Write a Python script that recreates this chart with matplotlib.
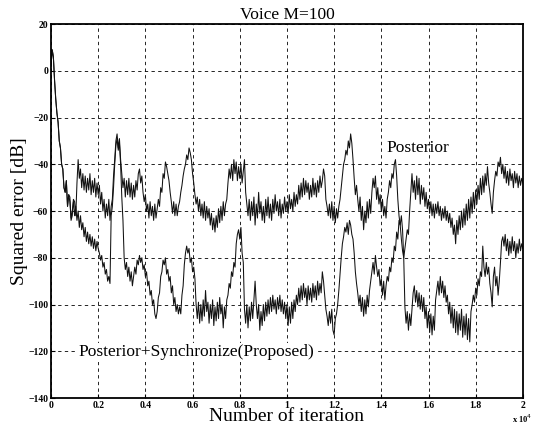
import matplotlib
matplotlib.use("Agg")
import matplotlib.pyplot as plt

plt.rcParams['font.family'] = ['Liberation Serif', 'DejaVu Serif']

# iteration axis (step 50)
iterations = list(range(0, 20001, 50))

posterior = [
    2, 9, 6, -4, -12, -18, -22, -30, -33, -40, -42, -50, -52, -47, -58, -53, -54, -64, -62, -55,
    -56, -62, -48, -38, -46, -42, -50, -44, -51, -45, -52, -46, -51, -44, -53, -47, -52, -46, -54, -48,
    -53, -49, -57, -52, -60, -55, -63, -57, -62, -55, -64, -58, -55, -45, -38, -30, -27, -33, -29, -38,
    -44, -50, -46, -54, -47, -53, -46, -54, -48, -55, -49, -54, -47, -51, -44, -42, -48, -45, -52, -56,
    -53, -60, -57, -63, -56, -62, -58, -64, -57, -63, -59, -55, -58, -50, -52, -44, -46, -39, -41, -44,
    -47, -52, -56, -61, -56, -62, -57, -62, -58, -56, -52, -49, -45, -42, -40, -36, -38, -33, -35, -38,
    -44, -48, -53, -57, -54, -60, -55, -62, -57, -63, -56, -64, -58, -63, -59, -66, -61, -68, -63, -69,
    -62, -67, -59, -65, -58, -64, -56, -62, -57, -55, -48, -42, -46, -40, -47, -38, -44, -39, -47, -41,
    -46, -40, -48, -43, -38, -52, -57, -62, -55, -64, -56, -62, -54, -66, -57, -63, -52, -61, -56, -64,
    -58, -65, -55, -62, -54, -63, -57, -64, -55, -61, -53, -60, -56, -62, -55, -63, -57, -61, -54, -60,
    -56, -61, -53, -59, -55, -60, -52, -58, -53, -57, -49, -55, -48, -54, -46, -53, -47, -52, -48, -55,
    -49, -54, -46, -53, -48, -54, -47, -52, -45, -50, -47, -42, -45, -55, -58, -62, -57, -63, -56, -64,
    -58, -65, -59, -63, -58, -55, -50, -45, -40, -38, -34, -36, -30, -33, -27, -31, -38, -46, -53, -49,
    -55, -60, -54, -64, -58, -68, -60, -65, -56, -63, -55, -61, -52, -46, -50, -45, -55, -50, -57, -53,
    -60, -55, -62, -58, -63, -55, -52, -47, -50, -44, -46, -40, -38, -45, -55, -62, -66, -72, -77, -80,
    -76, -72, -68, -70, -60, -52, -44, -52, -47, -55, -45, -53, -46, -57, -49, -55, -50, -58, -52, -59,
    -55, -61, -56, -62, -57, -63, -57, -61, -56, -62, -58, -64, -59, -63, -58, -64, -60, -65, -61, -67,
    -63, -70, -66, -74, -64, -70, -62, -68, -60, -67, -59, -66, -57, -64, -55, -63, -54, -61, -52, -59,
    -51, -57, -49, -55, -46, -53, -45, -52, -44, -49, -41, -48, -52, -57, -61, -52, -47, -43, -45, -39,
    -41, -37, -44, -40, -46, -41, -48, -43, -49, -42, -47, -44, -50, -43, -48, -44, -50, -45, -49, -46,
    -48,
]

proposed = [
    2, 9, 6, -4, -12, -18, -22, -30, -33, -40, -42, -50, -52, -47, -58, -53, -56, -63, -60, -56,
    -62, -58, -64, -60, -67, -62, -68, -65, -71, -67, -73, -69, -74, -70, -75, -71, -76, -72, -77, -73,
    -76, -78, -81, -79, -84, -82, -87, -85, -90, -88, -91, -62, -58, -50, -40, -32, -29, -34, -31, -40,
    -54, -64, -80, -85, -82, -88, -84, -90, -86, -92, -88, -84, -87, -81, -83, -79, -82, -80, -85, -83,
    -88, -86, -92, -90, -96, -94, -100, -98, -104, -106, -103, -97, -95, -88, -86, -81, -83, -80, -87, -85,
    -90, -88, -95, -92, -100, -97, -103, -100, -104, -101, -104, -96, -92, -83, -78, -75, -78, -76, -82, -80,
    -86, -84, -89, -100, -106, -99, -108, -100, -107, -98, -105, -94, -103, -99, -108, -100, -106, -98, -109, -101,
    -107, -99, -106, -97, -104, -100, -110, -101, -106, -98, -96, -91, -93, -86, -88, -82, -84, -74, -70, -68,
    -72, -67, -78, -82, -102, -108, -100, -110, -101, -107, -99, -106, -98, -90, -100, -106, -100, -111, -103, -109,
    -100, -107, -99, -105, -98, -104, -97, -103, -96, -102, -98, -104, -97, -102, -96, -103, -98, -104, -99, -106,
    -100, -109, -101, -108, -99, -106, -98, -103, -96, -100, -93, -99, -92, -98, -91, -97, -93, -100, -92, -98,
    -93, -99, -91, -97, -92, -98, -90, -96, -91, -95, -86, -90, -96, -102, -105, -109, -103, -108, -102, -111,
    -113, -106, -104, -100, -94, -87, -80, -74, -71, -67, -69, -65, -70, -64, -66, -70, -72, -78, -86, -91,
    -95, -100, -96, -103, -97, -105, -98, -104, -96, -101, -94, -90, -86, -82, -87, -79, -84, -88, -85, -92,
    -89, -96, -90, -98, -92, -88, -90, -84, -86, -80, -82, -75, -77, -69, -72, -64, -66, -62, -68, -80,
    -101, -108, -103, -111, -104, -109, -102, -95, -92, -99, -94, -101, -95, -102, -96, -103, -97, -106, -101, -110,
    -103, -112, -104, -113, -105, -111, -98, -94, -90, -96, -88, -95, -90, -97, -92, -99, -96, -104, -99, -108,
    -101, -110, -102, -112, -103, -113, -104, -111, -102, -114, -105, -113, -104, -115, -106, -116, -103, -100, -96, -99,
    -93, -96, -89, -92, -86, -88, -75, -84, -88, -82, -87, -84, -91, -95, -101, -88, -84, -92, -88, -96,
    -90, -82, -73, -71, -75, -70, -77, -72, -79, -73, -78, -71, -77, -73, -80, -74, -78, -72, -77, -74,
    -76,
]

x_ticks = [0, 2000, 4000, 6000, 8000, 10000, 12000, 14000, 16000, 18000, 20000]
x_tick_labels = ["0", "0.2", "0.4", "0.6", "0.8", "1", "1.2", "1.4", "1.6", "1.8", "2"]
y_ticks = [20, 0, -20, -40, -60, -80, -100, -120, -140]

fig = plt.figure(figsize=(5.33, 4.30), dpi=100)
ax = fig.add_axes([0.0957, 0.0744, 0.8853, 0.8696])

ax.plot(iterations, posterior, color='#111111', lw=0.75)
ax.plot(iterations, proposed, color='#111111', lw=0.75)

ax.set_xlim(0, 20000)
ax.set_ylim(-140, 20)
ax.set_xticks(x_ticks)
ax.set_xticklabels(x_tick_labels)
ax.set_yticks(y_ticks)
ax.tick_params(direction='in', length=3, width=0.8, labelsize=7, pad=2)
for lab in ax.get_xticklabels() + ax.get_yticklabels():
    lab.set_fontweight('bold')
ax.grid(True, color='black', linestyle=(0, (4, 4)), linewidth=0.6)
for s in ax.spines.values():
    s.set_linewidth(1.3)

ax.set_title("Voice M=100", fontsize=12.5, pad=4)
ax.set_xlabel("Number of iteration", fontsize=14, labelpad=-1)
ax.set_ylabel("Squared error [dB]", fontsize=14, labelpad=0)

ax.text(14200, -33, "Posterior", fontsize=12.5, ha='left', va='center')
ax.text(1150, -120.5, "Posterior+Synchronize(Proposed)", fontsize=12.5,
        ha='left', va='center',
        bbox=dict(facecolor='white', edgecolor='none', pad=1))
ax.text(1.02, -0.038, r"x 10$^4$", transform=ax.transAxes, fontsize=6,
        ha='right', va='top', fontweight='bold')

fig.savefig("out.png", dpi=100)
